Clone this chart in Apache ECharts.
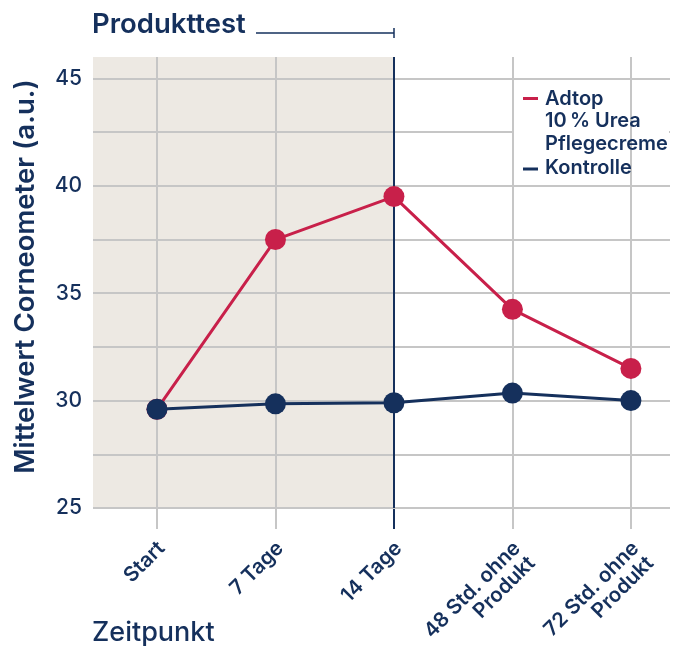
<!DOCTYPE html>
<html lang="de">
<head>
    <meta charset="UTF-8">
    <script src="https://cdn.jsdelivr.net/npm/echarts@6/dist/echarts.min.js"></script>
    <style>
        html, body { margin: 0; padding: 0; background: #fff; }
        #chart { width: 683px; height: 646px; }
    </style>
</head>
<body>
<div id="chart"></div>
<script>
    // Daten
    var zeitpunkte = ['Start', '7 Tage', '14 Tage', '48 Std. ohne\nProdukt', '72 Std. ohne\nProdukt'];
    var adtop = [29.6, 37.5, 39.5, 34.25, 31.5];
    var kontrolle = [29.6, 29.85, 29.9, 30.35, 30.0];
    var yTicks = [25, 30, 35, 40, 45];

    var navy = '#15305c';
    var rot = '#c8204a';
    var grau = '#c6c6c6';
    var font = 'Inter, "Noto Sans", sans-serif';

    var idx = zeitpunkte.map(function (z, i) { return i; });
    var produktEnde = 2; // 14 Tage

    var chart = echarts.init(document.getElementById('chart'));

    function xAchse(extra) {
        var a = {
            type: 'value',
            position: 'bottom',
            min: -0.54,
            max: 4.33,
            axisLine: { show: false },
            splitLine: { show: false }
        };
        for (var k in extra) a[k] = extra[k];
        return a;
    }

    chart.setOption({
        animation: false,
        textStyle: { fontFamily: font },
        grid: { left: 93, right: 13, top: 57, bottom: 138, outerBoundsMode: 'none' },
        xAxis: [
            xAchse({
                axisTick: {
                    show: true,
                    customValues: idx.filter(function (i) { return i !== produktEnde; }),
                    length: 21,
                    lineStyle: { color: grau, width: 2 }
                },
                axisLabel: {
                    customValues: idx,
                    rotate: 45,
                    margin: 24,
                    verticalAlign: 'top',
                    padding: [2, 6, 0, 0],
                    color: navy,
                    fontSize: 20.5,
                    fontWeight: 600,
                    lineHeight: 21,
                    formatter: function (v) { return zeitpunkte[Math.round(v)]; }
                }
            }),
            xAchse({
                axisLabel: { show: false },
                axisTick: {
                    show: true,
                    customValues: [produktEnde],
                    length: 21,
                    lineStyle: { color: navy, width: 2 }
                }
            })
        ],
        yAxis: {
            type: 'value',
            min: 25,
            max: 46,
            interval: 2.5,
            z: 2,
            name: 'Mittelwert Corneometer (a.u.)',
            nameLocation: 'middle',
            nameGap: 53,
            nameTextStyle: { color: navy, fontSize: 27.5, fontWeight: 600, padding: [0, 0, 0, 12] },
            axisLine: { show: false },
            axisTick: { show: false },
            axisLabel: {
                color: navy,
                fontSize: 21,
                fontWeight: 500,
                margin: 11,
                showMaxLabel: false,
                formatter: function (v) { return yTicks.indexOf(v) >= 0 ? String(v) : ''; }
            },
            splitLine: {
                show: true,
                showMaxLine: false,
                lineStyle: { color: grau, width: 2 }
            }
        },
        graphic: [
            {
                type: 'text', z: 10,
                style: { x: 92, y: 25, verticalAlign: 'middle', text: 'Produkttest', fill: navy, font: '600 27.5px ' + font }
            },
            {
                type: 'line', z: 10,
                shape: { x1: 256, y1: 33, x2: 394, y2: 33 },
                style: { stroke: navy, lineWidth: 1.5 }
            },
            {
                type: 'line', z: 10,
                shape: { x1: 394, y1: 28, x2: 394, y2: 38 },
                style: { stroke: navy, lineWidth: 1.5 }
            },
            {
                type: 'text', z: 10,
                style: { x: 92, y: 633, verticalAlign: 'middle', text: 'Zeitpunkt', fill: navy, font: '500 27px ' + font }
            },
            // Legende
            {
                type: 'rect', z: 5,
                shape: { x: 514, y: 81, width: 155, height: 104 },
                style: { fill: '#fff' }
            },
            {
                type: 'rect', z: 10,
                shape: { x: 523, y: 97, width: 15, height: 3 },
                style: { fill: rot }
            },
            {
                type: 'text', z: 10,
                style: { x: 545, y: 98.5, verticalAlign: 'middle', text: 'Adtop', fill: navy, font: '600 20px ' + font }
            },
            {
                type: 'text', z: 10,
                style: { x: 545, y: 121, verticalAlign: 'middle', text: '10\u202f% Urea', fill: navy, font: '600 20px ' + font }
            },
            {
                type: 'text', z: 10,
                style: { x: 545, y: 144, verticalAlign: 'middle', text: 'Pflegecreme', fill: navy, font: '600 20px ' + font }
            },
            {
                type: 'rect', z: 10,
                shape: { x: 523, y: 167.5, width: 15, height: 3 },
                style: { fill: navy }
            },
            {
                type: 'text', z: 10,
                style: { x: 545, y: 168, verticalAlign: 'middle', text: 'Kontrolle', fill: navy, font: '600 20px ' + font }
            }
        ],
        series: [
            {
                // Hintergrund Produkttest und graue senkrechte Linien
                type: 'line',
                data: [],
                silent: true,
                z: 1,
                markArea: {
                    silent: true,
                    itemStyle: { color: '#ede9e3' },
                    data: [[{ xAxis: 'min' }, { xAxis: produktEnde }]]
                },
                markLine: {
                    silent: true,
                    symbol: ['none', 'none'],
                    label: { show: false },
                    lineStyle: { color: grau, width: 2, type: 'solid' },
                    data: idx.filter(function (i) { return i !== produktEnde; })
                        .map(function (i) { return { xAxis: i }; })
                }
            },
            {
                // Ende Produkttest
                type: 'line',
                data: [],
                silent: true,
                z: 3,
                markLine: {
                    silent: true,
                    symbol: ['none', 'none'],
                    label: { show: false },
                    lineStyle: { color: navy, width: 2, type: 'solid' },
                    data: [{ xAxis: produktEnde }]
                }
            },
            {
                name: 'Adtop 10 % Urea Pflegecreme',
                type: 'line',
                z: 5,
                data: adtop.map(function (v, i) { return [i, v]; }),
                symbol: 'circle',
                symbolSize: 21,
                lineStyle: { color: rot, width: 3 },
                itemStyle: { color: rot }
            },
            {
                name: 'Kontrolle',
                type: 'line',
                z: 6,
                data: kontrolle.map(function (v, i) { return [i, v]; }),
                symbol: 'circle',
                symbolSize: 21,
                lineStyle: { color: navy, width: 3 },
                itemStyle: { color: navy }
            }
        ]
    });
</script>
</body>
</html>
